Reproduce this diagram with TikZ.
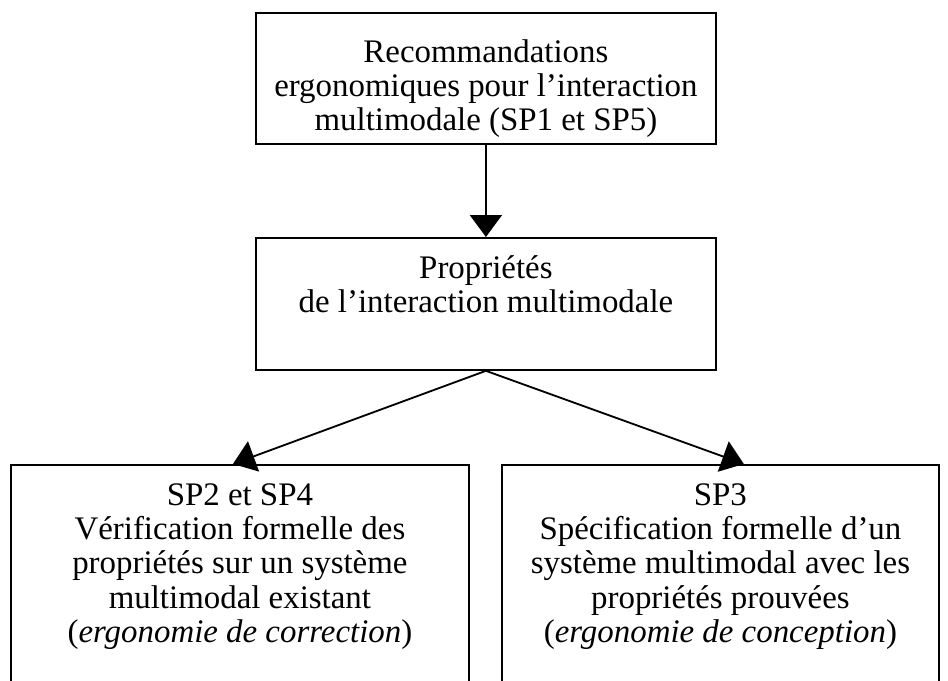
\documentclass[tikz,border=0pt]{standalone}
\usepackage{fontspec}
\setmainfont{Liberation Serif}
\usetikzlibrary{arrows.meta,positioning}

\begin{document}
\begin{tikzpicture}[box/.style={draw, line width=1.3pt, anchor=north west},
                    txt/.style={align=center, inner sep=0pt,
                                font=\fontsize{23.4}{24.5}\selectfont},
                    arr/.style={-{Triangle[length=0.55cm,width=0.8cm]},
                                line width=1.3pt}]
    \clip (0,0) rectangle (23.7,-17);

    % boxes
    \node[box, minimum width=11.5cm, minimum height=3.275cm] (rec) at (6.375,-0.3) {};
    \node[box, minimum width=11.5cm, minimum height=3.3cm] (prop) at (6.375,-5.925) {};
    \node[box, minimum width=11.45cm, minimum height=6cm] (verif) at (0.25,-11.6) {};
    \node[box, minimum width=10.925cm, minimum height=6cm] (spec) at (12.525,-11.6) {};

    % texts
    \node[txt, below=0.675cm of rec.north] (recT)
        {Recommandations\\ergonomiques pour l’interaction\\multimodale (SP1 et SP5)};
    \node[txt, below=0.45cm of prop.north] (propT)
        {Propriétés\\de l’interaction multimodale};
    \node[txt, below=0.475cm of verif.north] (verifT)
        {SP2 et SP4\\Vérification formelle des\\propriétés sur un système\\multimodal existant\\(\textit{ergonomie de correction})};
    \node[txt, below=0.475cm of spec.north] (specT)
        {SP3\\Spécification formelle d’un\\système multimodal avec les\\propriétés prouvées\\(\textit{ergonomie de conception})};

    % arrows
    \draw[arr] (rec.south) -- (prop.north);
    \draw[arr] (prop.south) -- ([xshift=-0.175cm]verif.north);
    \draw[arr] (prop.south) -- ([xshift=0.5875cm]spec.north);
\end{tikzpicture}
\end{document}
